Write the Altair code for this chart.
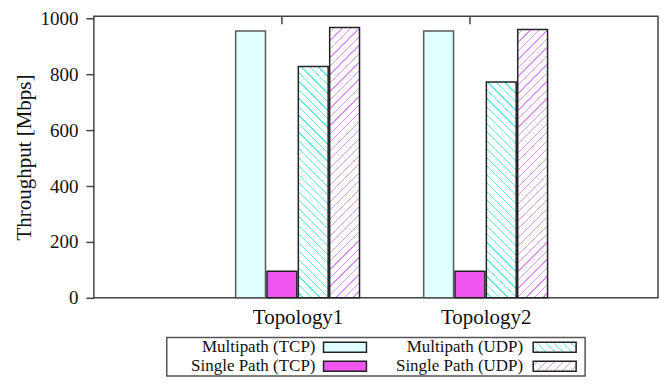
import json
import altair as alt
import pandas as pd

# ---------------- data ----------------
topologies = ["Topology1", "Topology2"]
series = ["Multipath (TCP)", "Single Path (TCP)", "Multipath (UDP)", "Single Path (UDP)"]
multipath_tcp = [955, 955]
single_path_tcp = [95, 95]
multipath_udp = [828, 773]
single_path_udp = [968, 961]
y_ticks = [0, 200, 400, 600, 800, 1000]

values_by_series = [multipath_tcp, single_path_tcp, multipath_udp, single_path_udp]

rows = []
for k, (name, vals) in enumerate(zip(series, values_by_series)):
    for g, (topo, v) in enumerate(zip(topologies, vals), start=1):
        rows.append({"topology": topo, "g": g, "series": name, "k": k, "value": v})
df = pd.DataFrame(rows)

# ---------------- layout / style ----------------
FONT = "Liberation Serif"
W, H = 565, 282
X_DOMAIN = [-1 / 12, 35 / 12]
Y_MAX = 1008
GAP = 0.004
PX_X = W / (X_DOMAIN[1] - X_DOMAIN[0])
PX_Y = H / Y_MAX
BAR_W_PX = (1 / 6 - 2 * GAP) * PX_X
FRAME = "#444444"


def hatch(w, h, direction, color, period=8.5, lw=1.3, bg="#ffffff"):
    L = w + h
    a = w * L / (w * w + h * h)
    b = h * L / (w * w + h * h)
    if direction == "/":
        x1, y1, x2, y2 = 0, 0, a, b
    else:
        x1, y1, x2, y2 = 0, 1, a, 1 - b
    stops = []
    p = period * 0.5
    while p < L:
        o0 = p / L
        o1 = min(1.0, (p + lw) / L)
        stops += [
            {"offset": round(o0, 5), "color": bg},
            {"offset": round(o0, 5), "color": color},
            {"offset": round(o1, 5), "color": color},
            {"offset": round(o1, 5), "color": bg},
        ]
        p += period
    if not stops:
        stops = [{"offset": 0, "color": bg}, {"offset": 1, "color": bg}]
    return alt.LinearGradient(gradient="linear", stops=stops, x1=x1, y1=y1, x2=x2, y2=y2)


HATCH = {2: ("\\", "#5ceaea"), 3: ("/", "#dc95f4")}
SOLID = {0: ("#e0ffff", "#5a5a5a"), 1: ("#f055f0", "#222222")}

xaxis = alt.Axis(
    values=[1, 2],
    labelExpr=json.dumps(topologies) + "[datum.value - 1]",
    ticks=False, domain=False, grid=False, title=None,
    labelFont=FONT, labelFontSize=21, labelPadding=9, labelColor="#111111",
)
yaxis = alt.Axis(
    values=y_ticks, format="d", tickSize=8, tickColor=FRAME, tickWidth=1.5,
    domain=False, grid=False,
    labelFont=FONT, labelFontSize=19, labelPadding=8, labelColor="#111111",
    title="Throughput [Mbps]", titleFont=FONT, titleFontSize=21,
    titleFontWeight="normal", titlePadding=5, titleColor="#111111",
)
xscale = alt.Scale(domain=X_DOMAIN, nice=False, zero=False)
yscale = alt.Scale(domain=[0, Y_MAX], nice=False)

base = alt.Chart(df).transform_calculate(
    x0=f"datum.g + (datum.k - 2) / 6 + {GAP}",
    x1=f"datum.g + (datum.k - 1) / 6 - {GAP}",
)
enc = dict(
    x=alt.X("x0:Q", scale=xscale, axis=xaxis),
    x2="x1:Q",
    y=alt.Y("value:Q", scale=yscale, axis=yaxis),
    y2=alt.datum(0),
)

layers = []
for k in (0, 1):
    fill, stroke = SOLID[k]
    layers.append(
        base.transform_filter(f"datum.k == {k}")
        .mark_bar(fill=fill, stroke=stroke, strokeWidth=1.5)
        .encode(**enc)
    )
for k in (2, 3):
    direction, color = HATCH[k]
    for g, v in enumerate(values_by_series[k], start=1):
        grad = hatch(BAR_W_PX, v * PX_Y, direction, color)
        layers.append(
            base.transform_filter(f"datum.k == {k} && datum.g == {g}")
            .mark_bar(fill=grad, stroke="#222222", strokeWidth=1.5)
            .encode(**enc)
        )

# mirrored x tics along the top border
layers.append(
    alt.Chart(df)
    .transform_filter("datum.k == 0")
    .transform_calculate(tick="datum.g - 1 / 12")
    .mark_rule(color=FRAME, strokeWidth=1.5)
    .encode(x=alt.X("tick:Q", scale=xscale, axis=xaxis), y=alt.value(0), y2=alt.value(8))
)

main = alt.layer(*layers).properties(
    width=W, height=H, view=alt.ViewBackground(stroke=FRAME, strokeWidth=1.5)
)

# ---------------- legend (labels left of swatches, 2 columns) ----------------
# legend coordinates are relative to the plot's left edge
LW, LH = W, 40
col_label_x = [222, 430]
col_sym_x = [230, 440]
SYM_W, SYM_H = 43, 10
row_y = [10.5, 29.5]

leg_rows = []
for k, name in enumerate(series):
    col, row = k // 2, k % 2
    leg_rows.append({
        "label": name, "k": k,
        "lx": col_label_x[col], "ly": row_y[row],
        "sx0": col_sym_x[col], "sx1": col_sym_x[col] + SYM_W,
        "sy0": row_y[row] - SYM_H / 2, "sy1": row_y[row] + SYM_H / 2,
    })
leg_df = pd.DataFrame(leg_rows)

lxs = alt.Scale(domain=[0, LW], nice=False, zero=False)
lys = alt.Scale(domain=[0, LH], nice=False, zero=False, reverse=True)

box = pd.DataFrame([{"x0": 73, "x1": 492, "y0": 0.75, "y1": LH - 0.75}])
leg_layers = [
    alt.Chart(box).mark_rect(fill="#ffffff", stroke="#555555", strokeWidth=1.5).encode(
        x=alt.X("x0:Q", scale=lxs, axis=None), x2="x1:Q",
        y=alt.Y("y0:Q", scale=lys, axis=None), y2="y1:Q",
    ),
    alt.Chart(leg_df).mark_text(
        align="right", baseline="middle", font=FONT, fontSize=17, color="#111111"
    ).encode(
        x=alt.X("lx:Q", scale=lxs, axis=None),
        y=alt.Y("ly:Q", scale=lys, axis=None),
        text="label:N",
    ),
]
for k in range(4):
    if k in SOLID:
        fill_def = SOLID[k][0]
    else:
        direction, color = HATCH[k]
        fill_def = hatch(SYM_W, SYM_H, direction, color)
    leg_layers.append(
        alt.Chart(leg_df).transform_filter(f"datum.k == {k}")
        .mark_rect(fill=fill_def, stroke="#222222", strokeWidth=1.5)
        .encode(
            x=alt.X("sx0:Q", scale=lxs, axis=None), x2="sx1:Q",
            y=alt.Y("sy0:Q", scale=lys, axis=None), y2="sy1:Q",
        )
    )

legend = alt.layer(*leg_layers).properties(
    width=LW, height=LH, view=alt.ViewBackground(strokeOpacity=0)
)

chart = (
    alt.vconcat(main, legend, spacing=8)
    .properties(padding={"left": 5, "top": 0, "right": 0, "bottom": 0})
    .configure_view(strokeOpacity=0)
    .configure(background="#ffffff")
)

chart.save("out.html", embed_options={"renderer": "svg", "actions": False})
